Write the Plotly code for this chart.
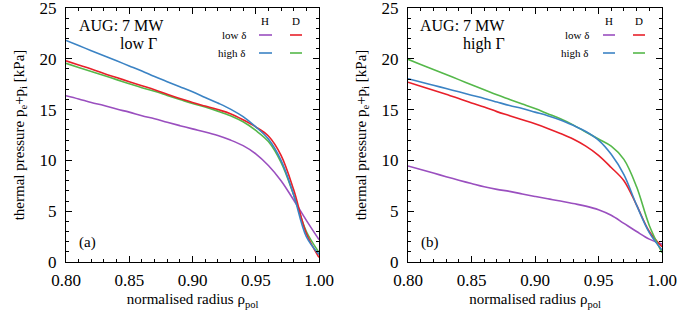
import plotly.graph_objects as go

W, H = 677, 320

rho = [0.80, 0.81, 0.82, 0.83, 0.84, 0.85, 0.86, 0.87, 0.88, 0.89, 0.90,
       0.91, 0.92, 0.93, 0.94, 0.95, 0.96, 0.97, 0.98, 0.99, 1.00]

# panel (a): low Gamma
a_H_low = [16.37, 16.05, 15.7, 15.4, 15.05, 14.75, 14.4, 14.1, 13.75, 13.42, 13.1,
           12.8, 12.45, 12.0, 11.45, 10.65, 9.5, 8.0, 6.1, 4.1, 2.2]
a_D_low = [19.8, 19.4, 19.0, 18.55, 18.15, 17.75, 17.35, 16.95, 16.5, 16.1, 15.7,
           15.35, 15.0, 14.6, 14.0, 13.3, 12.4, 10.5, 7.1, 2.8, 0.45]
a_H_high = [21.8, 21.3, 20.8, 20.3, 19.8, 19.3, 18.8, 18.25, 17.75, 17.25, 16.75,
            16.2, 15.65, 15.05, 14.3, 13.3, 12.1, 10.0, 6.6, 2.5, 0.75]
a_D_high = [19.55, 19.15, 18.75, 18.35, 17.95, 17.55, 17.15, 16.8, 16.4, 16.0, 15.6,
            15.25, 14.85, 14.4, 13.8, 12.95, 11.85, 9.8, 6.6, 3.0, 0.95]

# panel (b): high Gamma
b_H_low = [9.45, 9.1, 8.75, 8.4, 8.05, 7.72, 7.4, 7.15, 6.95, 6.7, 6.45,
           6.22, 6.0, 5.75, 5.5, 5.15, 4.6, 3.8, 3.0, 2.25, 1.75]
b_D_low = [17.7, 17.3, 16.9, 16.5, 16.1, 15.65, 15.25, 14.8, 14.4, 14.0, 13.6,
           13.15, 12.65, 12.1, 11.4, 10.5, 9.3, 8.0, 5.6, 3.0, 1.5]
b_H_high = [18.04, 17.72, 17.4, 17.07, 16.75, 16.42, 16.1, 15.75, 15.4, 15.1, 14.75,
            14.4, 13.98, 13.45, 12.85, 12.0, 10.6, 8.6, 5.6, 2.9, 1.18]
b_D_high = [19.95, 19.45, 18.95, 18.45, 17.95, 17.45, 16.95, 16.45, 16.0, 15.55, 15.1,
            14.6, 14.1, 13.5, 12.8, 12.1, 11.4, 10.1, 7.4, 3.6, 0.92]

x_ticks = [0.80, 0.85, 0.90, 0.95, 1.00]
y_ticks = [0, 5, 10, 15, 20, 25]

C_H_low = "#9a4fbf"
C_D_low = "#e8202a"
C_H_high = "#3b83c4"
C_D_high = "#55b84a"

FONT = "Liberation Serif"

fig = go.Figure()

series = [
    (a_H_low, C_H_low), (a_D_high, C_D_high), (a_D_low, C_D_low), (a_H_high, C_H_high),
]
for ys, c in series:
    fig.add_trace(go.Scatter(x=rho, y=ys, mode="lines", xaxis="x", yaxis="y",
                             line=dict(color=c, width=1.6, shape="spline", smoothing=1.0),
                             showlegend=False, hoverinfo="skip"))
series_b = [
    (b_H_low, C_H_low), (b_D_low, C_D_low), (b_D_high, C_D_high), (b_H_high, C_H_high),
]
for ys, c in series_b:
    fig.add_trace(go.Scatter(x=rho, y=ys, mode="lines", xaxis="x2", yaxis="y2",
                             line=dict(color=c, width=1.6, shape="spline", smoothing=1.0),
                             showlegend=False, hoverinfo="skip"))


def px(x):
    return x / W


def py(y):
    return 1 - y / H


ax_common = dict(
    showgrid=False, zeroline=False, showline=True, linecolor="black", linewidth=1,
    mirror="allticks", ticks="inside", ticklen=6, tickcolor="black", tickwidth=1,
    tickfont=dict(family=FONT, size=17, color="black"),
    automargin=False, ticklabeloverflow="allow",
)
xa = dict(ax_common, range=[0.80, 1.00], tickvals=x_ticks, tickformat=".2f",
          minor=dict(ticks="inside", ticklen=3, dtick=0.01, tickcolor="black", tick0=0.8),
          ticklabelstandoff=3,
          title=dict(text="normalised radius ρ<sub>pol</sub>",
                     font=dict(family=FONT, size=15, color="black"), standoff=4))
ya = dict(ax_common, range=[0, 25], tickvals=y_ticks,
          minor=dict(ticks="inside", ticklen=3, dtick=1, tickcolor="black", tick0=0),
          ticklabelstandoff=5,
          title=dict(text="thermal pressure p<sub>e</sub>+p<sub>i</sub> [kPa]",
                     font=dict(family=FONT, size=15, color="black"), standoff=11))

ydom = [py(262), py(8)]
fig.update_layout(
    width=W, height=H,
    margin=dict(l=0, r=0, t=0, b=0, autoexpand=False),
    paper_bgcolor="white", plot_bgcolor="white",
    font=dict(family=FONT, color="black"),
    xaxis=dict(xa, domain=[px(66), px(319)], anchor="y"),
    yaxis=dict(ya, domain=ydom, anchor="x"),
    xaxis2=dict(xa, domain=[px(408), px(662)], anchor="y2"),
    yaxis2=dict(ya, domain=ydom, anchor="x2"),
    showlegend=False,
)

annotations = []
shapes = []


def text(x, y, t, size, xanchor="center"):
    annotations.append(dict(x=px(x), y=py(y), xref="paper", yref="paper", text=t,
                            showarrow=False, xanchor=xanchor, yanchor="middle",
                            font=dict(family=FONT, size=size, color="black")))


def seg(x0, x1, y, c):
    shapes.append(dict(type="line", xref="paper", yref="paper", x0=px(x0), x1=px(x1),
                       y0=py(y), y1=py(y), line=dict(color=c, width=1.6)))


# panel (a) texts
text(121, 25, "AUG: 7 MW", 16)
text(138, 44, "low Γ", 16)
text(87, 242, "(a)", 15)
# panel (a) legend
text(265, 21, "H", 11)
text(296, 21, "D", 11)
text(248, 35, "low δ", 11, "right")
text(248, 53, "high δ", 11, "right")
seg(259, 272, 35, C_H_low)
seg(290, 302, 35, C_D_low)
seg(259, 272, 53, C_H_high)
seg(290, 302, 53, C_D_high)

# panel (b) texts
text(462, 25, "AUG: 7 MW", 16)
text(484, 44, "high Γ", 16)
text(430, 242, "(b)", 15)
text(609, 21, "H", 11)
text(639, 21, "D", 11)
text(591, 35, "low δ", 11, "right")
text(591, 53, "high δ", 11, "right")
seg(603, 615, 35, C_H_low)
seg(633, 645, 35, C_D_low)
seg(603, 615, 53, C_H_high)
seg(633, 645, 53, C_D_high)

fig.update_layout(annotations=annotations, shapes=shapes)

fig.write_html("out.html",
               config={"displayModeBar": False, "staticPlot": True},
               post_script="document.body.style.margin='0px';"
                           "document.body.style.overflow='hidden';")
